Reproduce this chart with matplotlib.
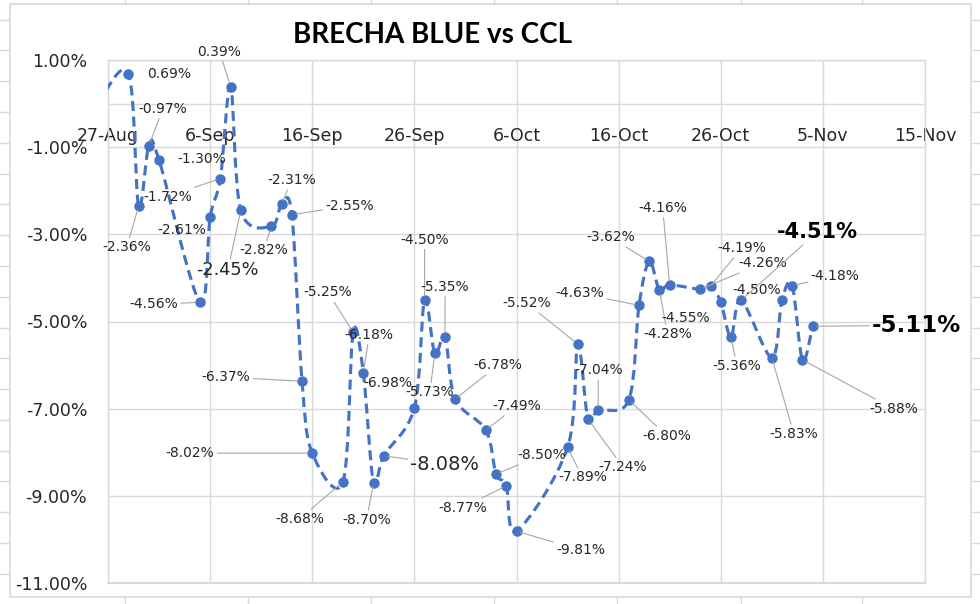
import numpy as np
import pandas as pd
import matplotlib
matplotlib.use("Agg")
import matplotlib.pyplot as plt
import matplotlib.dates as mdates
from matplotlib.path import Path
from matplotlib.patches import PathPatch, Rectangle
from matplotlib.lines import Line2D

# Datos: brecha dólar blue vs CCL (%), 2022
fechas = ['2022-08-26', '2022-08-29', '2022-08-30', '2022-08-31', '2022-09-01',
          '2022-09-05', '2022-09-06', '2022-09-07', '2022-09-08', '2022-09-09',
          '2022-09-12', '2022-09-13', '2022-09-14', '2022-09-15', '2022-09-16',
          '2022-09-19', '2022-09-20', '2022-09-21', '2022-09-22', '2022-09-23',
          '2022-09-26', '2022-09-27', '2022-09-28', '2022-09-29', '2022-09-30',
          '2022-10-03', '2022-10-04', '2022-10-05', '2022-10-06', '2022-10-11',
          '2022-10-12', '2022-10-13', '2022-10-14', '2022-10-17', '2022-10-18',
          '2022-10-19', '2022-10-20', '2022-10-21', '2022-10-24', '2022-10-25',
          '2022-10-26', '2022-10-27', '2022-10-28', '2022-10-31', '2022-11-01',
          '2022-11-02', '2022-11-03', '2022-11-04']
brecha = [0.00, 0.69, -2.36, -0.97, -1.30,
          -4.56, -2.61, -1.72, 0.39, -2.45,
          -2.82, -2.31, -2.55, -6.37, -8.02,
          -8.68, -5.25, -6.18, -8.70, -8.08,
          -6.98, -4.50, -5.73, -5.35, -6.78,
          -7.49, -8.50, -8.77, -9.81, -7.89,
          -5.52, -7.24, -7.04, -6.80, -4.63,
          -3.62, -4.28, -4.16, -4.26, -4.19,
          -4.55, -5.36, -4.51, -5.83, -4.50,
          -4.18, -5.88, -5.11]
ticks_x = ['2022-08-27', '2022-09-06', '2022-09-16', '2022-09-26', '2022-10-06',
           '2022-10-16', '2022-10-26', '2022-11-05', '2022-11-15']
ticks_y = [1, -1, -3, -5, -7, -9, -11]

# posicion de cada etiqueta (desplazamiento en pixeles, y hacia abajo), linea guia, estilo
etiquetas = [None,
    (41, 0, False, 'n'), (-12, 41, True, 'n'), (14, -37, True, 'n'), (43, -1, False, 'n'),
    (-46, 2, True, 'n'), (-28, 13, False, 'n'), (-53, 18, True, 'n'), (-11, -35, True, 'n'),
    (-13, 60, True, 'g1'), (-8, 24, True, 'n'), (10, -24, True, 'n'), (58, -9, True, 'n'),
    (-76, -4, True, 'n'), (-122, 0, True, 'n'), (-43, 37, True, 'n'), (-25, -40, True, 'n'),
    (6, -38, True, 'n'), (-7, 37, True, 'n'), (61, 9, True, 'g2'), (-27, -25, False, 'n'),
    (0, -60, True, 'n'), (-5, 39, True, 'n'), (0, -50, True, 'n'), (43, -34, True, 'n'),
    (31, -24, True, 'n'), (46, -19, True, 'n'), (-44, 22, True, 'n'), (64, 19, True, 'n'),
    (15, 30, True, 'n'), (-51, -41, True, 'n'), (35, 48, True, 'n'), (0, -40, True, 'n'),
    (38, 36, True, 'n'), (-59, -12, True, 'n'), (-39, -24, True, 'n'), (8, 44, True, 'n'),
    (-7, -77, True, 'n'), (62, -26, True, 'n'), (31, -38, True, 'n'), (-35, 16, False, 'n'),
    (6, 29, True, 'n'), (76, -68, True, 'b1'), (22, 76, True, 'n'), (-25, -10, False, 'n'),
    (43, -10, True, 'n'), (91, 49, True, 'n'), (104, -1, True, 'b2')]
estilos = {'n': (10, 'normal'), 'g1': (12.8, 'normal'), 'g2': (14, 'normal'),
           'b1': (15, 'bold'), 'b2': (16.5, 'bold')}

plt.rcParams['font.family'] = 'DejaVu Sans'
azul = '#4472C4'
gris = '#D9D9D9'

W, H = 980, 604
fig = plt.figure(figsize=(W / 100, H / 100), dpi=100)
ax = fig.add_axes([108 / W, 1 - 583 / H, (925 - 108) / W, (583 - 60) / H])

x = mdates.date2num(pd.to_datetime(fechas))
y = np.array(brecha)
pts = np.column_stack([x, y])

# linea suavizada (bezier cubica, estilo Excel)
verts = [pts[0]]
codes = [Path.MOVETO]
n = len(pts)
for i in range(n - 1):
    p0 = pts[i - 1] if i > 0 else pts[i]
    p3 = pts[i + 2] if i + 2 < n else pts[i + 1]
    c1 = pts[i] + (pts[i + 1] - p0) / 6
    c2 = pts[i + 1] - (p3 - pts[i]) / 6
    verts += [c1, c2, pts[i + 1]]
    codes += [Path.CURVE4] * 3
ax.add_patch(PathPatch(Path(verts, codes), fill=False, ec=azul, lw=2.25,
                       linestyle=(0, (3.2, 1.8)), zorder=3))
ax.plot(x, y, 'o', color=azul, ms=6.5, zorder=4)

for i in range(1, n):
    dx, dy, guia, est = etiquetas[i]
    fs, fw = estilos[est]
    color = '#000000' if fw == 'bold' else '#262626'
    props = dict(arrowstyle='-', color='#A6A6A6', lw=0.8, shrinkA=0, shrinkB=3) if guia else None
    ax.annotate(f'{brecha[i]:.2f}%', xy=(x[i], y[i]), xytext=(dx, -dy),
                textcoords='offset pixels', ha='center', va='center',
                fontsize=fs, fontweight=fw, color=color, arrowprops=props,
                annotation_clip=False, zorder=5)

ax.set_xlim(mdates.date2num(pd.Timestamp(ticks_x[0])), mdates.date2num(pd.Timestamp(ticks_x[-1])))
ax.set_ylim(-11, 1)
ax.set_xticks(mdates.date2num(pd.to_datetime(ticks_x)))
ax.xaxis.set_major_formatter(mdates.DateFormatter('%-d-%b'))
ax.set_yticks(ticks_y)
ax.set_yticklabels([f'{v:.2f}%' for v in ticks_y])
ax.tick_params(axis='x', length=0, pad=17, labelsize=12.5, labelcolor='#262626')
ax.tick_params(axis='y', length=0, pad=15, labelsize=12.5, labelcolor='#262626')
ax.grid(True, color=gris, lw=1)
ax.set_axisbelow(True)
for s in ax.spines.values():
    s.set_color(gris)
    s.set_linewidth(1)
ax.spines['bottom'].set_position(('data', 0))
ax.axhline(-11, color=gris, lw=1.5, clip_on=False)

fig.text(432 / W, 1 - 35 / H, 'BRECHA BLUE vs CCL', family='Lato', fontweight='bold',
         fontsize=20, ha='center', va='center', color='black')

# marco del grafico y celdas de la planilla
fig.add_artist(Rectangle((10 / W, 1 - 597 / H), (971 - 10) / W, (597 - 4) / H,
                         transform=fig.transFigure, fill=False, ec=gris, lw=1.2))
for cx in [125, 248, 371, 494, 617, 741, 862]:
    fig.add_artist(Line2D([cx / W, cx / W], [1, 1 - 4 / H], transform=fig.transFigure, color=gris, lw=1))
    fig.add_artist(Line2D([cx / W, cx / W], [0, 1 - 597 / H], transform=fig.transFigure, color=gris, lw=1))
for cy in np.arange(19.5, 600, 30.8):
    fig.add_artist(Line2D([0, 8 / W], [1 - cy / H] * 2, transform=fig.transFigure, color=gris, lw=1))
    fig.add_artist(Line2D([973 / W, 1], [1 - cy / H] * 2, transform=fig.transFigure, color=gris, lw=1))

fig.savefig('out.png', dpi=100)
